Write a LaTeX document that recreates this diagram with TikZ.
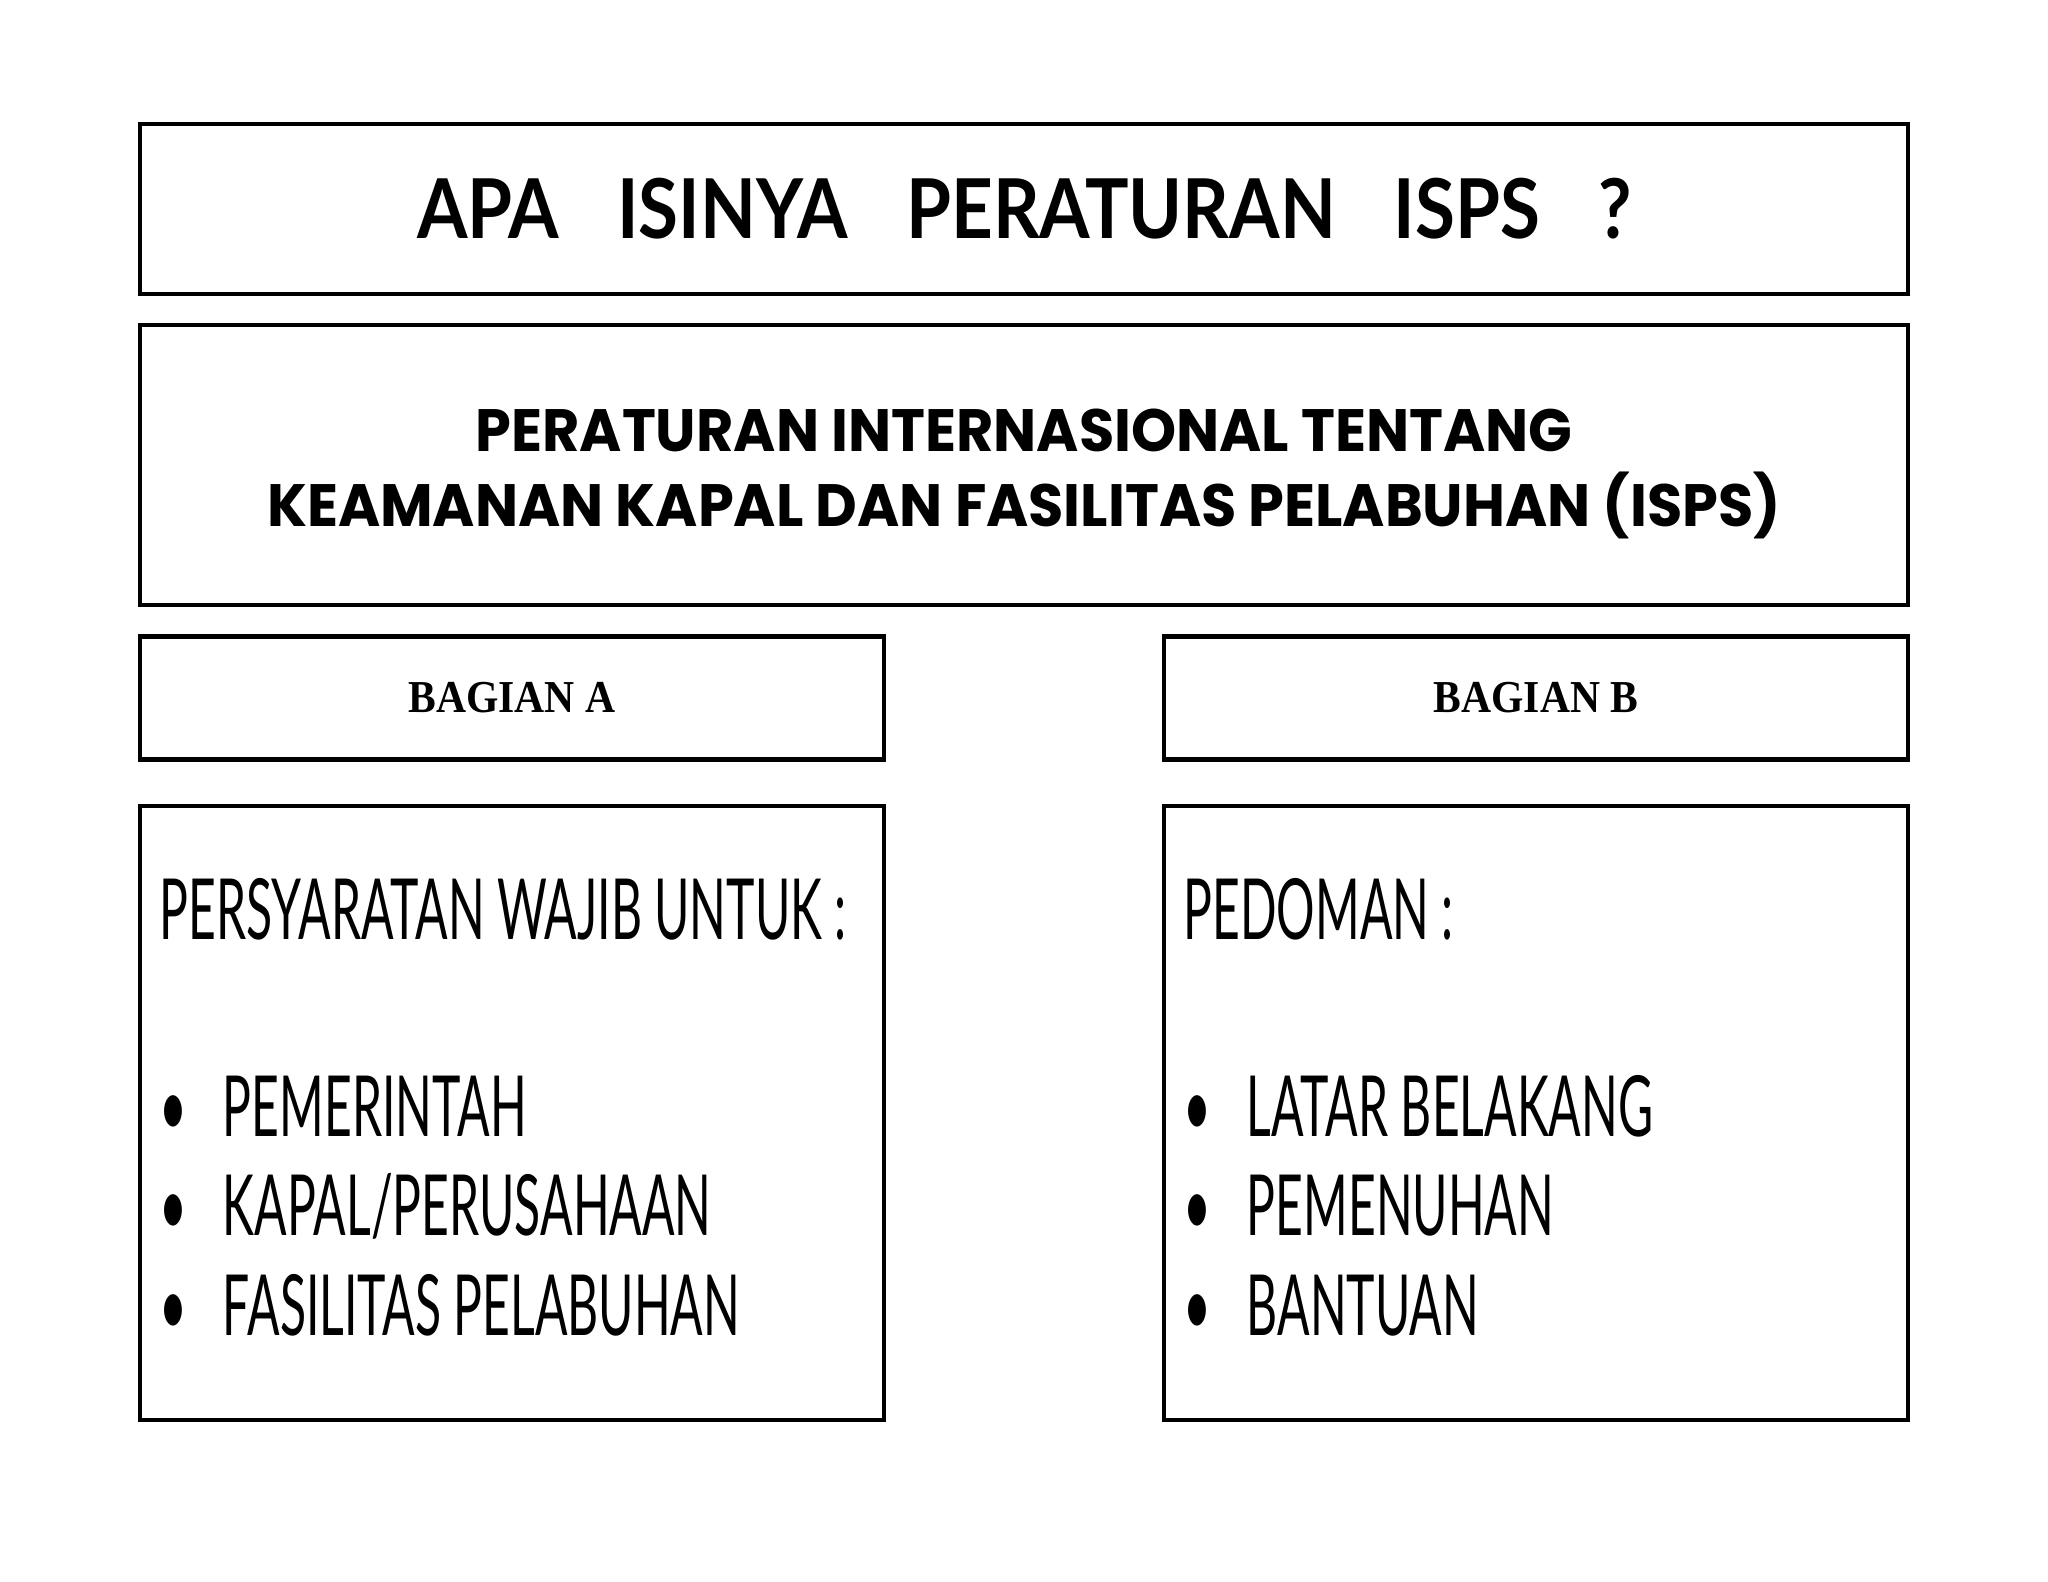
\documentclass[tikz,border=0pt]{standalone}
\usepackage{fontspec}
\setmainfont{Lato}
\newfontfamily\judulfont{Lato}[FakeStretch=0.88]
\newfontfamily\isifont{Poppins}[FakeStretch=0.96]
\newfontfamily\bagfont{Liberation Serif}[FakeStretch=0.91]
\newfontfamily\daftarfont{Lato}[FakeStretch=0.57]
\usetikzlibrary{positioning}

\begin{document}
\begin{tikzpicture}[kotak/.style={draw, line width=1.2pt, inner sep=0pt},
                    daftar/.style={anchor=base west, inner sep=0pt, font=\daftarfont\fontsize{24}{28}\selectfont}]
    \useasboundingbox (0,0) rectangle (20.48,-15.82);
    % kotak utama
    \node[kotak, minimum width=17.68cm, minimum height=1.70cm,
          font=\judulfont\bfseries\fontsize{23.5}{28}\selectfont] (judul) at (10.24,-2.09)
          {APA\hspace{0.7em}ISINYA\hspace{0.7em}PERATURAN\hspace{0.7em}ISPS\hspace{0.7em}?};
    \node[kotak, minimum width=17.68cm, minimum height=2.80cm] (isps) [below=0.27cm of judul] {};
    \node[align=center, inner sep=0pt, font=\isifont\bfseries\fontsize{17}{21.3}\selectfont] (ispsteks)
          at ([yshift=-0.09cm]isps.center)
          {PERATURAN INTERNASIONAL TENTANG\\
           KEAMANAN KAPAL DAN FASILITAS PELABUHAN (ISPS)};
    % bagian
    \node[kotak, minimum width=7.44cm, minimum height=1.23cm,
          font=\bagfont\bfseries\fontsize{13}{15}\selectfont] (bagA) [below right=0.27cm and 0cm of isps.south west] {BAGIAN A};
    \node[kotak, minimum width=7.44cm, minimum height=1.23cm,
          font=\bagfont\bfseries\fontsize{13}{15}\selectfont] (bagB) [below left=0.27cm and 0cm of isps.south east] {BAGIAN B};
    \node[kotak, minimum width=7.44cm, minimum height=6.14cm] (isiA) [below=0.42cm of bagA] {};
    \node[kotak, minimum width=7.44cm, minimum height=6.14cm] (isiB) [below=0.42cm of bagB] {};

    % isi bagian A
    \node[daftar] (wajib) at (1.59,-9.39) {PERSYARATAN WAJIB UNTUK :};
    \node[daftar] (a1) at (1.59,-11.36) {\textbullet\hspace{0.42em}PEMERINTAH};
    \node[daftar] (a2) at (1.59,-12.35) {\textbullet\hspace{0.42em}KAPAL/PERUSAHAAN};
    \node[daftar] (a3) at (1.59,-13.35) {\textbullet\hspace{0.42em}FASILITAS PELABUHAN};
    % isi bagian B
    \node[daftar] (pedoman) at (11.83,-9.39) {PEDOMAN :};
    \node[daftar] (b1) at (11.83,-11.36) {\textbullet\hspace{0.42em}LATAR BELAKANG};
    \node[daftar] (b2) at (11.83,-12.35) {\textbullet\hspace{0.42em}PEMENUHAN};
    \node[daftar] (b3) at (11.83,-13.35) {\textbullet\hspace{0.42em}BANTUAN};
\end{tikzpicture}
\end{document}
